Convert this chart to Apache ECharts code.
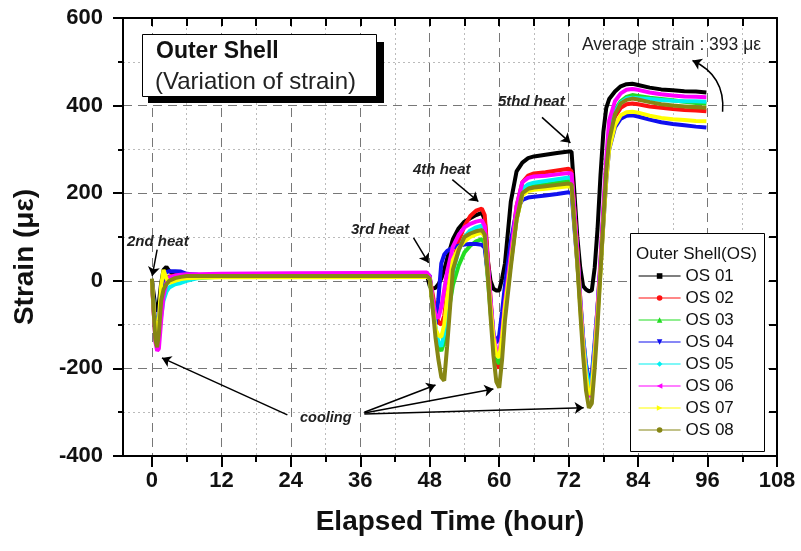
<!DOCTYPE html>
<html><head><meta charset="utf-8">
<script src="https://cdn.jsdelivr.net/npm/echarts@6/dist/echarts.min.js"></script>
<style>html,body{margin:0;padding:0;background:#fff}#c{width:801px;height:551px}</style>
</head><body><div id="c"></div>
<script>
// ---- data (hours, micro-strain) ----
const hours = [0,0.3,0.6,0.9,1.2,1.6,2,2.5,3,4,5,6,8,12,24,36,47.5,
  48,48.5,49,49.5,50,50.5,51,52,53,54,55,56,57,
  57.5,58,58.5,59,59.5,60,60.5,61,62,63,64,65,66,68,70,72,
  72.5,73,73.5,74,74.5,75,75.5,76,76.5,77,77.5,78,78.5,79,80,81,82,83,84,86,88,90,92,94,95.8];

const os01 = [0,-30,-60,-70,-50,-5,25,32,22,15,14,13,13,13,13,13,13,
  -12,-18,-16,-8,5,25,50,95,120,135,143,150,155,
  140,50,0,-18,-22,-22,5,40,180,250,270,280,284,288,292,295,
  295,200,100,30,-12,-20,-24,-22,30,120,240,340,395,415,432,444,449,450,447,441,437,435,433,432,430];
const os02 = [0,-70,-130,-145,-120,-60,-15,5,10,12,13,13,13,13,13,13,14,
  5,-30,-70,-95,-100,-80,-30,40,90,125,148,160,165,
  150,60,-40,-130,-185,-200,-140,-60,60,170,225,240,245,248,252,256,
  250,160,70,-40,-130,-200,-235,-220,-150,-60,40,150,250,320,375,395,403,405,403,398,395,392,390,389,387];
const os03 = [0,-60,-120,-135,-110,-55,-15,0,8,10,11,12,12,12,12,12,12,
  5,-50,-110,-150,-160,-140,-90,-10,35,65,80,90,95,
  85,10,-70,-140,-180,-190,-140,-70,40,140,200,212,216,220,224,228,
  225,140,50,-50,-140,-210,-250,-240,-160,-70,30,150,260,335,390,410,420,424,422,418,415,412,409,406,404];
const os04 = [2,-50,-100,-115,-80,-20,10,20,22,22,21,16,14,13,13,13,13,
  12,-60,-100,-40,40,60,68,76,80,83,84,84,82,
  75,20,-50,-120,-142,-125,-70,-10,90,160,185,190,192,195,198,202,
  200,120,40,-50,-130,-190,-225,-215,-140,-60,30,130,230,300,350,370,377,378,375,368,362,358,355,352,350];
const os05 = [0,-60,-125,-140,-125,-80,-45,-25,-15,-8,-5,0,6,10,11,11,12,
  5,-50,-110,-140,-150,-120,-60,20,70,100,115,122,126,
  115,40,-50,-120,-165,-176,-130,-60,50,150,210,220,224,228,232,236,
  235,150,60,-40,-130,-200,-240,-230,-150,-60,40,150,250,325,385,407,416,418,417,415,413,411,410,410,409];
const os06 = [0,-70,-140,-160,-155,-90,-35,-5,8,12,14,15,15,16,17,18,19,
  10,-40,-80,-85,-60,-20,20,78,105,122,130,135,138,
  125,50,-40,-120,-160,-165,-120,-50,60,170,225,235,238,240,243,246,
  245,160,70,-40,-140,-220,-265,-250,-160,-60,50,170,280,366,410,428,436,438,436,430,426,423,421,420,419];
const os07 = [0,-60,-115,-130,-90,-10,25,5,-5,0,4,6,7,8,8,8,9,
  5,-60,-110,-125,-128,-100,-40,48,75,90,100,106,110,
  100,20,-60,-130,-170,-175,-130,-60,40,140,195,205,208,210,213,216,
  215,130,40,-60,-150,-220,-260,-250,-170,-80,20,130,230,300,355,378,385,386,384,377,372,369,367,365,364];
const os08 = [5,-70,-135,-152,-120,-45,-20,-8,0,6,9,11,11,11,11,11,11,
  5,-60,-130,-180,-220,-228,-150,25,70,100,108,113,116,
  105,20,-80,-170,-230,-244,-180,-90,30,140,200,210,213,216,219,222,
  220,130,40,-70,-170,-250,-290,-280,-200,-100,20,140,250,320,380,405,413,416,414,408,403,400,398,396,395];

const seriesNames = ['OS 01','OS 02','OS 03','OS 04','OS 05','OS 06','OS 07','OS 08'];
const seriesValues = [os01,os02,os03,os04,os05,os06,os07,os08];
const seriesColors = ['#000000','#ff1010','#22dd22','#1010ee','#00f0f0','#ff00ff','#ffff00','#868614'];
const seriesSymbols = ['rect','circle','triangle','path://M0,0L10,0L5,10Z','diamond','path://M10,0L10,10L0,5Z','path://M0,0L0,10L10,5Z','circle'];

const xMajorTicks = [0,12,24,36,48,60,72,84,96,108];
const xMinorTicks = [6,18,30,42,54,66,78,90,102];
const xMin = -5, xMax = 108;
const yMin = -400, yMax = 600, yStep = 200;

const FONT = 'Liberation Sans, Arial, Helvetica, sans-serif';

const chart = echarts.init(document.getElementById('c'), null, {renderer:'canvas'});

const arrowLines = [
  [{coord:[0.9,71]},{coord:[0.05,11]}],
  [{coord:[45.2,98]},{coord:[47.8,41]}],
  [{coord:[51.9,231]},{coord:[56.4,181]}],
  [{coord:[67.4,373]},{coord:[72.3,315]}],
  [{coord:[23.4,-306]},{coord:[1.73,-176]}],
  [{coord:[36.7,-300]},{coord:[49.0,-238]}],
  [{coord:[36.7,-302]},{coord:[59.0,-247]}],
  [{coord:[36.7,-304]},{coord:[74.6,-290]}]
];
const curvedArrow = [{coords:[[98.6,386],[93.4,503]]}];

const series = seriesNames.map((name,k)=>({
  name, type:'line', xAxisIndex:0, yAxisIndex:0,
  data: hours.map((t,i)=>[t, seriesValues[k][i]]),
  showSymbol:false, symbol: seriesSymbols[k], symbolSize:6,
  color: seriesColors[k],
  lineStyle:{width:4, color: seriesColors[k]},
  itemStyle:{color: seriesColors[k]},
  z: 2 + k
}));
series[0].markLine = {
  silent:true, symbol:['none','arrow'], symbolSize:9,
  label:{show:false}, emphasis:{disabled:true},
  lineStyle:{color:'#000', width:1.5, type:'solid'},
  data: arrowLines
};
series.push({
  name:'avgArrow', type:'lines', coordinateSystem:'cartesian2d', xAxisIndex:0, yAxisIndex:0,
  silent:true, symbol:['none','arrow'], symbolSize:9,
  lineStyle:{color:'#000', width:1.5, curveness:-0.35, opacity:1},
  emphasis:{disabled:true},
  data: curvedArrow, z:20
});

const option = {
  animation:false,
  backgroundColor:'#fff',
  grid:{left:123, right:24, top:18, bottom:95},
  legend:{
    orient:'vertical', left:633, top:260, z:60,
    itemWidth:42, itemHeight:7, itemGap:0,
    lineStyle:{width:1.2},
    textStyle:{fontFamily:FONT, fontSize:17, color:'#111', lineHeight:22},
    data: seriesNames
  },
  xAxis:[
    { type:'value', min:xMin, max:xMax, position:'bottom',
      axisLine:{onZero:false, lineStyle:{color:'#000', width:2}},
      axisTick:{customValues:xMajorTicks, length:11, lineStyle:{color:'#000', width:2}},
      axisLabel:{customValues:xMajorTicks, margin:14, fontFamily:FONT, fontSize:22, fontWeight:'bold', color:'#111'},
      splitLine:{show:true, lineStyle:{type:[9,6], color:'#777', width:1}},
      name:'Elapsed Time (hour)', nameLocation:'middle', nameGap:52,
      nameTextStyle:{fontFamily:FONT, fontSize:28, fontWeight:'bold', color:'#111'}
    },
    { type:'value', min:xMin, max:xMax, position:'bottom',
      axisLine:{show:false, onZero:false},
      axisTick:{customValues:xMinorTicks, length:6, lineStyle:{color:'#000', width:2}},
      axisLabel:{show:false},
      splitLine:{show:true, lineStyle:{type:[2,3], color:'#bbb', width:1}}
    },
    { type:'value', min:xMin, max:xMax, position:'top',
      axisLine:{onZero:false, lineStyle:{color:'#000', width:2}},
      axisTick:{inside:true, customValues:xMajorTicks.concat(xMinorTicks), length:8, lineStyle:{color:'#000', width:2}},
      axisLabel:{show:false},
      splitLine:{show:false}
    }
  ],
  yAxis:[
    { type:'value', min:yMin, max:yMax, interval:yStep, position:'left',
      axisLine:{onZero:false, lineStyle:{color:'#000', width:2}},
      axisTick:{length:10, lineStyle:{color:'#000', width:2}},
      minorTick:{show:true, splitNumber:2, length:5, lineStyle:{color:'#000', width:2}},
      axisLabel:{margin:20, fontFamily:FONT, fontSize:22, fontWeight:'bold', color:'#111'},
      splitLine:{show:true, lineStyle:{type:[9,6], color:'#777', width:1}},
      minorSplitLine:{show:true, lineStyle:{type:[2,3], color:'#bbb', width:1}}
    },
    { type:'value', min:yMin, max:yMax, interval:yStep, position:'right',
      axisLine:{onZero:false, lineStyle:{color:'#000', width:2}},
      axisTick:{inside:true, length:8, lineStyle:{color:'#000', width:2}},
      minorTick:{show:true, splitNumber:2, length:8, lineStyle:{color:'#000', width:2}},
      axisLabel:{show:false},
      splitLine:{show:false}
    }
  ],
  graphic:[
    {type:'rect', left:148, top:42, shape:{width:236, height:61}, style:{fill:'#000'}, z:50},
    {type:'rect', left:142, top:34, shape:{width:234, height:62}, style:{fill:'#fff', stroke:'#000', lineWidth:1}, z:51},
    {type:'text', left:156, top:40, style:{text:'Outer Shell', fontFamily:FONT, fontSize:23, fontWeight:'bold', fill:'#111'}, z:52},
    {type:'text', left:155, top:70, style:{text:'(Variation of strain)', fontFamily:FONT, fontSize:24, fill:'#222'}, z:52},
    {type:'rect', left:630, top:233, shape:{width:134, height:218}, style:{fill:'#fff', stroke:'#000', lineWidth:1}, z:1},
    {type:'text', left:636, top:246, style:{text:'Outer Shell(OS)', fontFamily:FONT, fontSize:17, fill:'#111'}, z:2},
    {type:'text', x:25, y:257, rotation:Math.PI/2, style:{text:'Strain (\u03bc\u03b5)', fontFamily:FONT, fontSize:28, fontWeight:'bold', fill:'#111', align:'center', verticalAlign:'middle'}},
    {type:'text', left:582, top:36, style:{text:'Average strain : 393 \u03bc\u03b5', fontFamily:FONT, fontSize:17.5, fill:'#222'}, z:30},
    {type:'text', left:127, top:234, style:{text:'2nd heat', fontFamily:FONT, fontSize:15, fontWeight:'bold', fontStyle:'italic', fill:'#222'}, z:30},
    {type:'text', left:351, top:222, style:{text:'3rd heat', fontFamily:FONT, fontSize:15, fontWeight:'bold', fontStyle:'italic', fill:'#222'}, z:30},
    {type:'text', left:413, top:162, style:{text:'4th heat', fontFamily:FONT, fontSize:15, fontWeight:'bold', fontStyle:'italic', fill:'#222'}, z:30},
    {type:'text', left:498, top:94, style:{text:'5thd heat', fontFamily:FONT, fontSize:15, fontWeight:'bold', fontStyle:'italic', fill:'#222'}, z:30},
    {type:'text', left:300, top:410, style:{text:'cooling', fontFamily:FONT, fontSize:14.5, fontWeight:'bold', fontStyle:'italic', fill:'#222'}, z:30}
  ],
  series
};
chart.setOption(option);
</script></body></html>
